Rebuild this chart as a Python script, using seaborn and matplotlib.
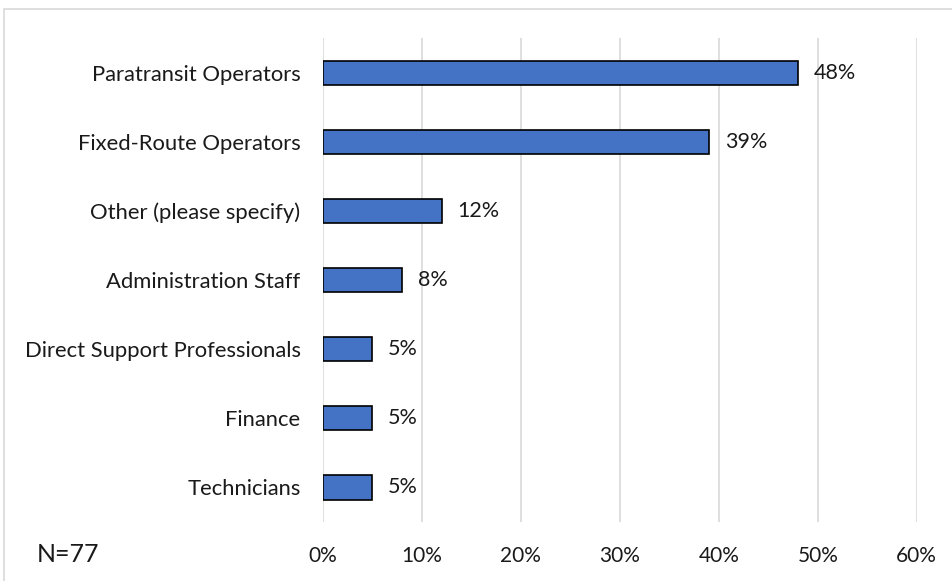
import matplotlib
matplotlib.use("Agg")
import matplotlib.pyplot as plt
import matplotlib.patches as mpatches
import seaborn as sns
import pandas as pd

categories = [
    "Paratransit Operators",
    "Fixed-Route Operators",
    "Other (please specify)",
    "Administration Staff",
    "Direct Support Professionals",
    "Finance",
    "Technicians",
]
percent = [48, 39, 12, 8, 5, 5, 5]
tick_values = [0, 10, 20, 30, 40, 50, 60]
tick_labels = ["0%", "10%", "20%", "30%", "40%", "50%", "60%"]
sample_note = "N=77"

df = pd.DataFrame({"role": categories, "pct": percent})

sns.set_theme(style="white")
plt.rcParams["font.family"] = ["Lato", "DejaVu Sans"]

fig = plt.figure(figsize=(9.52, 5.81), dpi=100)
ax = fig.add_axes([0.339, 0.1015, 0.624, 0.833])

sns.barplot(data=df, x="pct", y="role", orient="h", color="#4472C4",
            saturation=1, width=0.35, edgecolor="black", linewidth=1.2,
            ax=ax, zorder=3)

ax.set_xlim(0, 60)
ax.set_xticks(tick_values)
ax.set_xticklabels(tick_labels)
ax.grid(axis="x", color="#d9d9d9", linewidth=1.2, zorder=0)
ax.set_axisbelow(True)
for s in ax.spines.values():
    s.set_visible(False)
ax.tick_params(axis="y", length=0, labelsize=15.8, labelcolor="#1a1a1a", pad=16)
ax.tick_params(axis="x", length=0, labelsize=15, labelcolor="#1a1a1a", pad=17)
ax.set_xlabel("")
ax.set_ylabel("")

for i, v in enumerate(percent):
    ax.annotate(f"{v}%", xy=(v, i), xytext=(11.5, 0), textcoords="offset points",
                ha="left", va="center", fontsize=15.5, color="#1a1a1a")

fig.text(37 / 952, 1 - 554 / 581, sample_note, fontsize=18, ha="left",
         va="center", color="#1a1a1a")

border = mpatches.Rectangle((4 / 952, -0.05), 1.2, 1 - 9 / 581 + 0.05,
                            transform=fig.transFigure, fill=False,
                            edgecolor="#d9d9d9", linewidth=1.2)
fig.patches.append(border)

fig.savefig("out.png", dpi=100, facecolor="white")
